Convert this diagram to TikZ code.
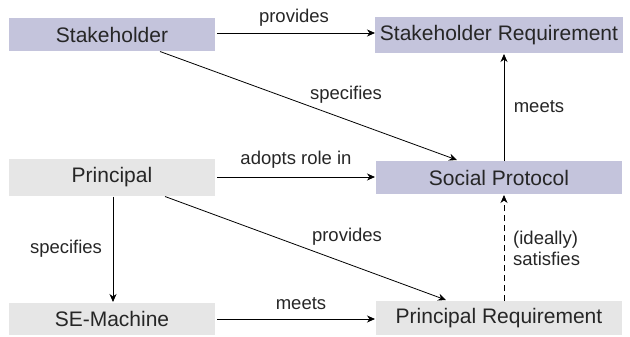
\documentclass[tikz,border=0pt]{standalone}
\usepackage{fontspec}
\setmainfont{Liberation Sans}
\usetikzlibrary{arrows.meta}
\definecolor{lav}{HTML}{C4C4DC}
\definecolor{lgray}{HTML}{E6E6E6}
\begin{document}
\begin{tikzpicture}[x=1pt,y=-1pt,
  box/.style={inner sep=0pt, font=\fontsize{21}{24}\selectfont, text=black!85},
  lbox/.style={box, fill=lav},
  gbox/.style={box, fill=lgray},
  conn/.style={line width=0.8pt, -{Stealth[length=8pt,width=7pt,inset=2.5pt]}},
  lab/.style={font=\fontsize{18.5}{22}\selectfont, text=black!85, inner sep=0pt}]
\useasboundingbox (0,0) rectangle (630,337);
\node[lbox, minimum width=206pt, minimum height=33pt] (sh) at (112,34.5) {Stakeholder};
\node[lbox, minimum width=248pt, minimum height=36pt] (sr) at (499,35) {Stakeholder Requirement};
\node[gbox, minimum width=206pt, minimum height=37pt] (pr) at (112,177.5) {Principal};
\node[lbox, minimum width=246pt, minimum height=33pt] (sp) at (499,177.5) {Social Protocol};
\node[gbox, minimum width=206pt, minimum height=32pt] (se) at (112,319) {SE-Machine};
\node[gbox, minimum width=246pt, minimum height=34pt] (preq) at (499,318) {Principal Requirement};

\coordinate (a1) at (217,33);
\coordinate (b1) at (375,33);
\draw[conn] (a1) -- (b1);
\node[lab] (l1) at (294,18) {provides};

\coordinate (a2) at (160,51.5);
\coordinate (b2) at (457,160);
\draw[conn] (a2) -- (b2);
\node[lab] (l2) at (346,95) {specifies};

\coordinate (a3) at (217,177);
\coordinate (b3) at (375,177);
\draw[conn] (a3) -- (b3);
\node[lab] (l3) at (296,160) {adopts role in};

\coordinate (a4) at (504,161);
\coordinate (b4) at (504,54);
\draw[conn] (a4) -- (b4);
\node[lab] (l4) at (539,107) {meets};

\coordinate (a5) at (165,196.5);
\coordinate (b5) at (446,300);
\draw[conn] (a5) -- (b5);
\node[lab] (l5) at (347,237) {provides};

\coordinate (a6) at (113,196.5);
\coordinate (b6) at (113,302);
\draw[conn] (a6) -- (b6);
\node[lab] (l6) at (66,249) {specifies};

\coordinate (a7) at (217,319);
\coordinate (b7) at (375,319);
\draw[conn] (a7) -- (b7);
\node[lab] (l7) at (301,304) {meets};

\coordinate (a8) at (504,301);
\coordinate (b8) at (504,195);
\draw[conn, dash pattern=on 6pt off 4pt] (a8) -- (b8);
\node[lab, align=left, anchor=west] (l8) at (513,248) {(ideally)\\[-1pt]satisfies};
\end{tikzpicture}
\end{document}
